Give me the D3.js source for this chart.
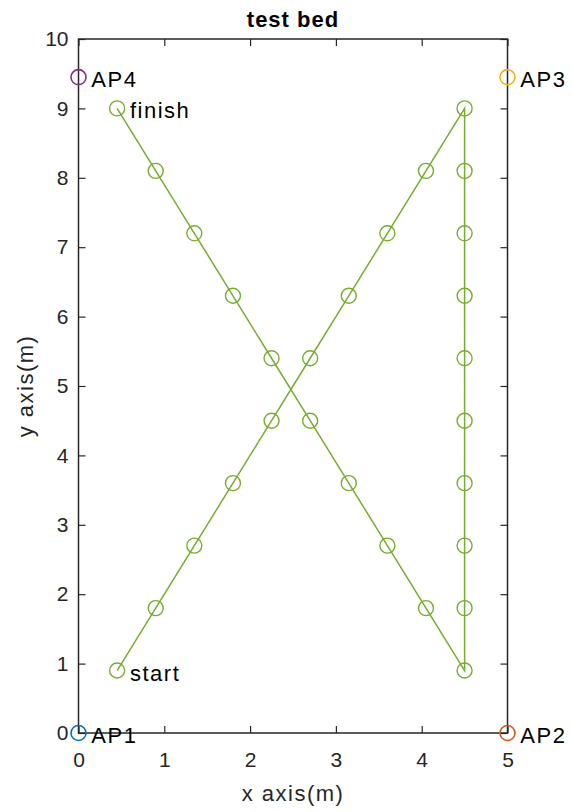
<!DOCTYPE html>
<html>
<head>
<meta charset="utf-8">
<script src="https://cdn.jsdelivr.net/npm/d3@7"></script>
<style>
  body { margin: 0; background: #fff; }
  svg { display: block; font-family: "Liberation Sans", Arial, sans-serif; }
</style>
</head>
<body>
<svg width="573" height="812"></svg>
<script>
// walking path (m)
const path_x = [0.45, 0.9, 1.35, 1.8, 2.25, 2.7, 3.15, 3.6, 4.05, 4.5,
                4.5, 4.5, 4.5, 4.5, 4.5, 4.5, 4.5, 4.5, 4.5,
                4.05, 3.6, 3.15, 2.7, 2.25, 1.8, 1.35, 0.9, 0.45];
const path_y = [0.9, 1.8, 2.7, 3.6, 4.5, 5.4, 6.3, 7.2, 8.1, 9.0,
                8.1, 7.2, 6.3, 5.4, 4.5, 3.6, 2.7, 1.8, 0.9,
                1.8, 2.7, 3.6, 4.5, 5.4, 6.3, 7.2, 8.1, 9.0];

// access points
const ap_names = ["AP1", "AP2", "AP3", "AP4"];
const ap_x = [0, 5, 5, 0];
const ap_y = [0, 0, 9.45, 9.45];
const ap_colors = ["#0072BD", "#D95319", "#EDB120", "#7E2F8E"];

// text marks
const notes = ["start", "finish"];
const notes_x = [0.45, 0.45];
const notes_y = [0.9, 9.0];

const x_ticks = [0, 1, 2, 3, 4, 5];
const y_ticks = [0, 1, 2, 3, 4, 5, 6, 7, 8, 9, 10];

const svg = d3.select("svg");

const box = { left: 78.5, right: 507.5, top: 39, bottom: 733 };
const axis_color = "#262626";
const green = "#77AC30";

const x = d3.scaleLinear().domain([0, 5]).range([box.left, box.right]);
const y = d3.scaleLinear().domain([0, 10]).range([box.bottom, box.top]);

// axes (ticks inward, mirrored on top/right)
const tick = 7;
const fmt = d3.format("d");

svg.append("g")
  .attr("transform", `translate(0,${box.bottom})`)
  .call(d3.axisBottom(x).tickValues(x_ticks).tickFormat(fmt).tickSizeInner(-tick).tickSizeOuter(0).tickPadding(19))
  .call(g => g.select(".domain").remove());

svg.append("g")
  .attr("transform", `translate(${box.left},0)`)
  .call(d3.axisLeft(y).tickValues(y_ticks).tickFormat(fmt).tickSizeInner(-tick).tickSizeOuter(0).tickPadding(10))
  .call(g => g.select(".domain").remove());

svg.append("g")
  .attr("transform", `translate(0,${box.top})`)
  .call(d3.axisTop(x).tickValues(x_ticks).tickSizeInner(-tick).tickSizeOuter(0).tickFormat(""))
  .call(g => g.select(".domain").remove());

svg.append("g")
  .attr("transform", `translate(${box.right},0)`)
  .call(d3.axisRight(y).tickValues(y_ticks).tickSizeInner(-tick).tickSizeOuter(0).tickFormat(""))
  .call(g => g.select(".domain").remove());

svg.selectAll(".tick line").attr("stroke", axis_color).attr("stroke-width", 1.2);
svg.selectAll(".tick text")
  .attr("fill", axis_color)
  .attr("font-size", 21)
  .attr("font-family", "'Liberation Sans', Arial, sans-serif");

svg.append("rect")
  .attr("x", box.left).attr("y", box.top)
  .attr("width", box.right - box.left).attr("height", box.bottom - box.top)
  .attr("fill", "none").attr("stroke", axis_color).attr("stroke-width", 1.5);

// path line + markers
const pts = path_x.map((d, i) => [d, path_y[i]]);

svg.append("path")
  .datum(pts)
  .attr("fill", "none")
  .attr("stroke", green)
  .attr("stroke-width", 1.5)
  .attr("d", d3.line().x(d => x(d[0])).y(d => y(d[1])));

svg.selectAll("circle.pt")
  .data(pts)
  .join("circle")
  .classed("pt", true)
  .attr("cx", d => x(d[0]))
  .attr("cy", d => y(d[1]))
  .attr("r", 7.5)
  .attr("fill", "none")
  .attr("stroke", green)
  .attr("stroke-width", 1.4);

// access points
svg.selectAll("circle.ap")
  .data(ap_names)
  .join("circle")
  .classed("ap", true)
  .attr("cx", (d, i) => x(ap_x[i]))
  .attr("cy", (d, i) => y(ap_y[i]))
  .attr("r", 7.5)
  .attr("fill", "none")
  .attr("stroke", (d, i) => ap_colors[i])
  .attr("stroke-width", 1.6);

const label_font = 22;

svg.selectAll("text.ap")
  .data(ap_names)
  .join("text")
  .classed("ap", true)
  .attr("x", (d, i) => x(ap_x[i] + 0.15))
  .attr("y", (d, i) => y(ap_y[i]) + 10)
  .attr("font-size", label_font)
  .attr("letter-spacing", 1.5)
  .attr("fill", "#000")
  .text(d => d);

svg.selectAll("text.note")
  .data(notes)
  .join("text")
  .classed("note", true)
  .attr("x", (d, i) => x(notes_x[i] + 0.15))
  .attr("y", (d, i) => y(notes_y[i]) + 10)
  .attr("font-size", label_font)
  .attr("letter-spacing", 1.5)
  .attr("fill", "#000")
  .text(d => d);

// titles
const mid_x = (box.left + box.right) / 2;

svg.append("text")
  .attr("x", mid_x).attr("y", 27)
  .attr("text-anchor", "middle")
  .attr("font-size", 22).attr("font-weight", "bold")
  .attr("letter-spacing", 1)
  .attr("fill", "#000")
  .text("test bed");

svg.append("text")
  .attr("x", mid_x).attr("y", 801)
  .attr("text-anchor", "middle")
  .attr("font-size", 22)
  .attr("letter-spacing", 1.5)
  .attr("fill", axis_color)
  .text("x axis(m)");

svg.append("text")
  .attr("transform", `translate(33,${(box.top + box.bottom) / 2}) rotate(-90)`)
  .attr("text-anchor", "middle")
  .attr("font-size", 22)
  .attr("letter-spacing", 1.5)
  .attr("fill", axis_color)
  .text("y axis(m)");
</script>
</body>
</html>
